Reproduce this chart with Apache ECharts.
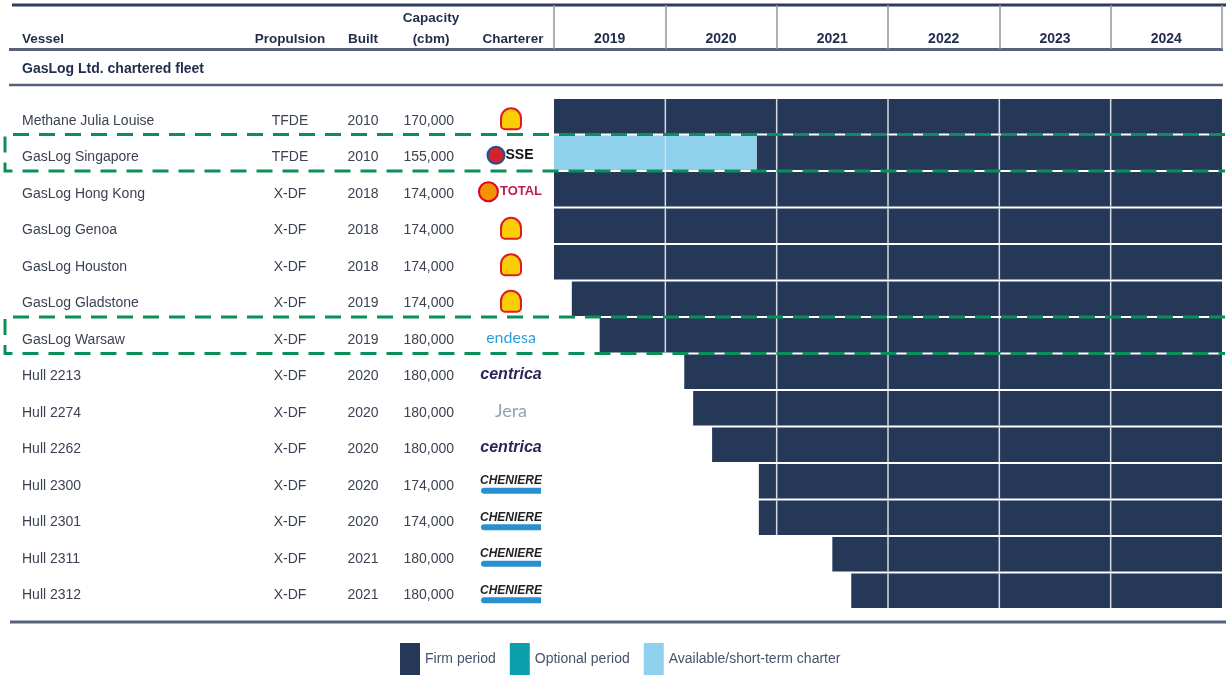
<!DOCTYPE html>
<html>
<head>
<meta charset="utf-8">
<script src="https://cdn.jsdelivr.net/npm/echarts@6/dist/echarts.min.js"></script>
<style>
  html, body { margin: 0; padding: 0; background: #fff; }
  #chart { width: 1231px; height: 679px; }
</style>
</head>
<body>
<div id="chart"></div>
<script>
// table data
const vessels = ['Methane Julia Louise', 'GasLog Singapore', 'GasLog Hong Kong', 'GasLog Genoa',
  'GasLog Houston', 'GasLog Gladstone', 'GasLog Warsaw', 'Hull 2213', 'Hull 2274', 'Hull 2262',
  'Hull 2300', 'Hull 2301', 'Hull 2311', 'Hull 2312'];
const propulsion = ['TFDE', 'TFDE', 'X-DF', 'X-DF', 'X-DF', 'X-DF', 'X-DF', 'X-DF', 'X-DF', 'X-DF',
  'X-DF', 'X-DF', 'X-DF', 'X-DF'];
const built = [2010, 2010, 2018, 2018, 2018, 2019, 2019, 2020, 2020, 2020, 2020, 2020, 2021, 2021];
const capacity = ['170,000', '155,000', '174,000', '174,000', '174,000', '174,000', '180,000',
  '180,000', '180,000', '180,000', '174,000', '174,000', '180,000', '180,000'];
const charterers = ['Shell', 'SSE', 'Total', 'Shell', 'Shell', 'Shell', 'Endesa', 'Centrica',
  'JERA', 'Centrica', 'Cheniere', 'Cheniere', 'Cheniere', 'Cheniere'];
const years = ['2019', '2020', '2021', '2022', '2023', '2024'];
const headers = ['Vessel', 'Propulsion', 'Built', 'Capacity\n(cbm)', 'Charterer'];
const groupLabel = 'GasLog Ltd. chartered fleet';

// charter periods (fractional years)
const firmStart = [2019, 2020.82, 2019, 2019, 2019, 2019.16, 2019.41, 2020.17, 2020.25, 2020.42,
  2020.84, 2020.84, 2021.5, 2021.67];
const firmEnd = [2025, 2025, 2025, 2025, 2025, 2025, 2025, 2025, 2025, 2025, 2025, 2025, 2025, 2025];
const optionalPeriods = [];                 // [row, start, end]
const availablePeriods = [[1, 2019, 2020.82]];
const highlightedRows = [1, 6];

const FONT = "'Liberation Sans', Arial, sans-serif";
const NAVY = '#263858';
const HEAD = '#1f2d4a';
const BODY = '#3b4352';

const firmData = vessels.map((v, i) => [i, firmStart[i], firmEnd[i]]);

// one period bar, with light year lines drawn across it
function renderPeriod(params, api) {
  const row = api.value(0);
  const from = api.value(1), to = api.value(2);
  const s = api.coord([from, row]);
  const e = api.coord([to, row]);
  const h = api.size([0, 1])[1];
  const y0 = s[1] - h / 2 + 1, y1 = s[1] + h / 2 - 1;
  const children = [{
    type: 'rect',
    shape: { x: s[0], y: y0, width: e[0] - s[0], height: y1 - y0 },
    style: api.style()
  }];
  for (let yr = Math.ceil(from); yr <= Math.floor(to); yr++) {
    if (yr === 2019 || yr === 2025) continue;
    const x = api.coord([yr, row])[0];
    children.push({ type: 'line', shape: { x1: x, y1: y0, x2: x, y2: y1 },
      style: { stroke: '#d6dae2', lineWidth: 1.5 } });
  }
  return { type: 'group', children: children };
}

// dashed frame round a highlighted row, open on the right
function renderBox(params, api) {
  const row = api.value(0);
  const e = api.coord([api.value(1), row]);
  const h = api.size([0, 1])[1];
  const top = e[1] - h / 2, bottom = e[1] + h / 2, right = e[0] + 3;
  return {
    type: 'polyline',
    shape: { points: [[right, top], [5, top], [5, bottom], [right, bottom]] },
    style: { fill: 'none', stroke: '#0b8f58', lineWidth: 3, lineDash: [16, 10] }
  };
}

const textRich = { t: { fontFamily: FONT, fontSize: 14, color: BODY, padding: [9, 0, 0, 0] } };

const logoRich = {
  shell: { width: 18, height: 19, backgroundColor: '#fbce07', borderColor: '#dd1d21',
    borderWidth: 2, borderRadius: [9, 9, 3, 3] },
  sseIcon: { width: 15, height: 15, backgroundColor: '#d2232a', borderColor: '#1f4f9c',
    borderWidth: 2, borderRadius: 8 },
  sse: { fontFamily: FONT, fontWeight: 'bold', fontSize: 14, color: '#111', padding: [0, 0, 0, 2] },
  totIcon: { width: 17, height: 17, backgroundColor: '#f29400', borderColor: '#e4002b',
    borderWidth: 2, borderRadius: 9 },
  total: { fontFamily: FONT, fontWeight: 'bold', fontSize: 13, color: '#b81f52', padding: [0, 0, 0, 3] },
  endesa: { fontFamily: 'Lato, sans-serif', fontSize: 16, color: '#2d9fe0' },
  centrica: { fontFamily: FONT, fontWeight: 'bold', fontStyle: 'italic', fontSize: 16, color: '#2a2657' },
  jera: { fontFamily: 'Lato, sans-serif', fontSize: 18, color: '#8fa3b2' },
  chen: { fontFamily: FONT, fontWeight: 'bold', fontStyle: 'italic', fontSize: 12,
    color: '#222', lineHeight: 14 },
  wave: { width: 60, height: 6, backgroundColor: '#2a8fcf', borderRadius: [3, 0, 0, 3] }
};

function logo(name) {
  switch (name) {
    case 'Shell': return '{shell| }';
    case 'SSE': return '{sseIcon| }{sse|SSE}';
    case 'Total': return '{totIcon| }{total|TOTAL}';
    case 'Endesa': return '{endesa|endesa}';
    case 'Centrica': return '{centrica|centrica}';
    case 'JERA': return '{jera|Jera}';
    case 'Cheniere': return '{chen|CHENIERE}\n{wave| }';
  }
  return name;
}

function columnAxis(offset, align, formatter, rich, padding) {
  return {
    type: 'category', data: vessels, inverse: true, position: 'left', offset: offset,
    axisLine: { show: false }, axisTick: { show: false }, splitLine: { show: false },
    axisLabel: { margin: 0, align: align, formatter: formatter, rich: rich || textRich,
      fontFamily: FONT, fontSize: 14, color: BODY, padding: padding || 0 }
  };
}
const cell = s => '{t|' + s + '}';

const headerX = [22, 290, 363, 431, 513];
const headerAlign = ['left', 'center', 'center', 'center', 'center'];
const headerGraphics = headers.map((t, i) => ({
  type: 'text', x: headerX[i], y: 50,
  style: { text: t, fill: HEAD, font: "bold 13.5px " + FONT, textAlign: headerAlign[i],
    textVerticalAlign: 'bottom', lineHeight: 21 }
}));

function hline(y, x1, x2, w, c) {
  return { type: 'line', shape: { x1: x1, y1: y, x2: x2, y2: y }, style: { stroke: c, lineWidth: w } };
}

const chart = echarts.init(document.getElementById('chart'));
chart.setOption({
  animation: false,
  grid: { left: 554, right: 9, top: 98, bottom: 70 },
  xAxis: [
    { type: 'value', min: 2019, max: 2025, interval: 1,
      axisLabel: { show: false }, axisLine: { show: false }, axisTick: { show: false },
      splitLine: { show: false } },
    { type: 'category', data: years, position: 'top', offset: 49, boundaryGap: true,
      axisLine: { show: false },
      axisTick: { show: true, length: 44, lineStyle: { color: '#8f98a8', width: 1.5 } },
      axisLabel: { margin: 3, fontFamily: FONT, fontWeight: 'bold', fontSize: 14, color: HEAD },
      splitLine: { show: false } }
  ],
  yAxis: [
    columnAxis(532, 'left', (v, i) => cell(vessels[i])),
    columnAxis(264, 'center', (v, i) => cell(propulsion[i])),
    columnAxis(191, 'center', (v, i) => cell(built[i])),
    columnAxis(100, 'right', (v, i) => cell(capacity[i])),
    columnAxis(43, 'center', (v, i) => logo(charterers[i]), logoRich, [5, 0, 0, 0])
  ],
  legend: {
    left: 395, top: 638, itemWidth: 20, itemHeight: 32, itemGap: 14, icon: 'rect',
    data: ['Firm period', 'Optional period', 'Available/short-term charter'],
    textStyle: { fontFamily: FONT, fontSize: 14, color: '#44546a' },
    selectedMode: false
  },
  series: [
    { name: 'Firm period', type: 'custom', renderItem: renderPeriod, z: 2,
      itemStyle: { color: NAVY }, encode: { y: 0, x: [1, 2] }, data: firmData },
    { name: 'Optional period', type: 'custom', renderItem: renderPeriod, z: 2,
      itemStyle: { color: '#0a9fab' }, encode: { y: 0, x: [1, 2] }, data: optionalPeriods },
    { name: 'Available/short-term charter', type: 'custom', renderItem: renderPeriod, z: 3,
      itemStyle: { color: '#8fd1ec' }, encode: { y: 0, x: [1, 2] }, data: availablePeriods },
    { name: 'highlight', type: 'custom', renderItem: renderBox, z: 10, clip: false, silent: true,
      encode: { y: 0, x: 1 }, data: highlightedRows.map(r => [r, 2025]) }
  ],
  graphic: [
    hline(5, 12, 1226, 3, '#2e3d5c'),
    hline(49.5, 9, 1223, 3, '#56637b'),
    hline(85, 9, 1223, 2.5, '#56637b'),
    hline(622, 10, 1226, 3, '#56637b'),
    { type: 'text', x: 22, y: 69,
      style: { text: groupLabel, fill: HEAD, font: "bold 14px " + FONT, textVerticalAlign: 'middle' } }
  ].concat(headerGraphics)
});
</script>
</body>
</html>
